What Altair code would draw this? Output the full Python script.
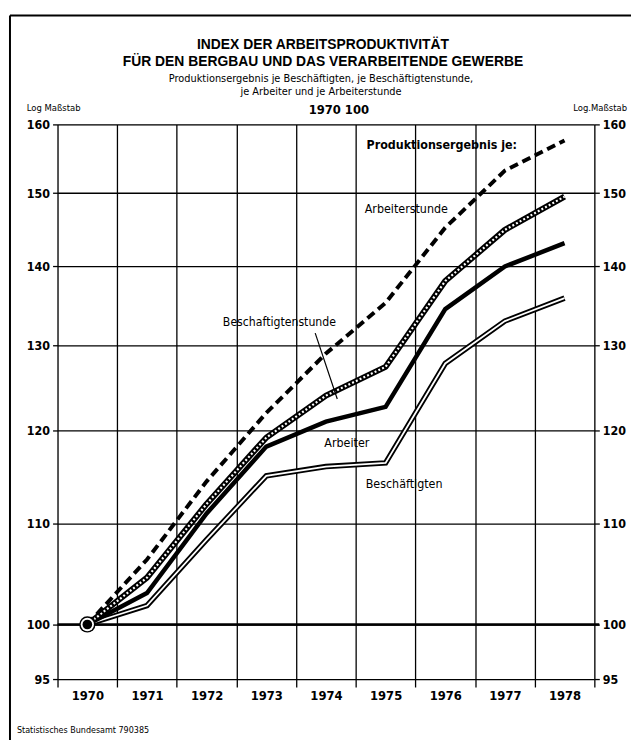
import altair as alt
import pandas as pd

years = [1970, 1971, 1972, 1973, 1974, 1975, 1976, 1977, 1978]
arbeiterstunde = [100, 106.3, 114.4, 122.0, 129.0, 135.3, 145.2, 153.2, 157.6]
beschaeftigtenstunde = [100, 104.5, 112.0, 119.2, 124.0, 127.4, 138.1, 144.9, 149.5]
arbeiter = [100, 103.0, 111.0, 118.2, 121.0, 122.7, 134.5, 140.0, 143.1]
beschaeftigten = [100, 101.8, 108.3, 115.0, 116.0, 116.4, 127.8, 133.0, 135.9]

y_ticks = [95, 100, 110, 120, 130, 140, 150, 160]
x_bounds = [1969.5 + i for i in range(10)]

label_text = ["Produktionsergebnis je:", "Arbeiterstunde", "Beschaftigtenstunde", "Arbeiter", "Beschäftigten"]
label_x = [1974.68, 1974.65, 1973.22, 1974.35, 1975.31]
label_y = [156.9, 147.7, 132.9, 118.6, 114.1]
label_align = ["left", "left", "center", "center", "center"]
label_bold = ["bold", "normal", "normal", "normal", "normal"]
label_size = [12.5, 12.5, 12.3, 12.5, 12.5]

leader_x = [1973.82, 1974.19]
leader_y = [131.5, 123.6]

W, H = 542, 560
NARROW = "DejaVu Sans Condensed, Liberation Sans Narrow, sans-serif"
SANS = "Liberation Sans, Arial, sans-serif"

xscale = alt.Scale(domain=[1969.5, 1978.5], nice=False, zero=False)
yscale = alt.Scale(type="log", domain=[95, 160], nice=False)


def series_df(vals):
    return pd.DataFrame({"year": years, "value": vals})


def one():
    return pd.DataFrame({"a": [0]})


x_grid_axis = alt.Axis(values=x_bounds, labels=False, grid=True, gridColor="black",
                       gridWidth=1.3, gridOpacity=1, ticks=True, tickSize=8, tickColor="black",
                       tickWidth=1.3, domain=False, title=None, orient="bottom")
y_left_axis = alt.Axis(values=y_ticks, format="d", grid=True, gridColor="black", gridWidth=1.3,
                       gridOpacity=1, ticks=True, tickSize=5, tickColor="black", tickWidth=1.3,
                       labelFont=NARROW, labelFontSize=12.5, labelFontWeight="bold",
                       labelColor="black", labelPadding=3, domain=False, title=None, orient="left")
x_label_axis = alt.Axis(values=years, format="d", grid=False, ticks=False, domain=False,
                        labelFont=NARROW, labelFontSize=13, labelFontWeight="bold",
                        labelColor="black", labelPadding=11, title=None, orient="bottom")
y_right_axis = alt.Axis(values=y_ticks, format="d", grid=False, ticks=True, tickSize=5,
                        tickColor="black", tickWidth=1.3, labelFont=NARROW, labelFontSize=12.5,
                        labelFontWeight="bold", labelColor="black", labelPadding=3,
                        domain=False, title=None, orient="right")

besch_outer = alt.Chart(series_df(beschaeftigten)).mark_line(
    color="black", strokeWidth=5.5, strokeJoin="miter", strokeCap="butt").encode(
    x=alt.X("year:Q", scale=xscale, axis=x_label_axis),
    y=alt.Y("value:Q", scale=yscale, axis=y_right_axis))

base_rule = alt.Chart(pd.DataFrame({"value": [100]})).mark_rule(
    color="black", strokeWidth=2.4).encode(
    y=alt.Y("value:Q", scale=yscale, axis=y_left_axis),
    x=alt.value(0), x2=alt.value(W + 5))

grid_pts = alt.Chart(pd.DataFrame({"year": x_bounds, "value": [100] * 10})).mark_point(
    opacity=0).encode(
    x=alt.X("year:Q", scale=xscale, axis=x_grid_axis),
    y=alt.Y("value:Q", scale=yscale, axis=None))

no_x = dict(scale=xscale, axis=None)
no_y = dict(scale=yscale, axis=None)

besch_inner = alt.Chart(series_df(beschaeftigten)).mark_line(
    color="white", strokeWidth=1.8, strokeJoin="miter", strokeCap="butt").encode(
    x=alt.X("year:Q", **no_x), y=alt.Y("value:Q", **no_y))

arbeiter_line = alt.Chart(series_df(arbeiter)).mark_line(
    color="black", strokeWidth=4.5, strokeJoin="miter").encode(
    x=alt.X("year:Q", **no_x), y=alt.Y("value:Q", **no_y))

bst_outer = alt.Chart(series_df(beschaeftigtenstunde)).mark_line(
    color="black", strokeWidth=6, strokeJoin="round").encode(
    x=alt.X("year:Q", **no_x), y=alt.Y("value:Q", **no_y))
bst_inner = alt.Chart(series_df(beschaeftigtenstunde)).mark_line(
    color="white", strokeWidth=2.2, strokeDash=[2, 2.2], strokeJoin="round").encode(
    x=alt.X("year:Q", **no_x), y=alt.Y("value:Q", **no_y))

ast_line = alt.Chart(series_df(arbeiterstunde)).mark_line(
    color="black", strokeWidth=4, strokeDash=[9, 5], strokeCap="butt").encode(
    x=alt.X("year:Q", **no_x), y=alt.Y("value:Q", **no_y))

start_df = pd.DataFrame({"year": [years[0]], "value": [arbeiterstunde[0]]})
m1 = alt.Chart(start_df).mark_point(shape="circle", filled=True, color="black", size=270, opacity=1).encode(
    x=alt.X("year:Q", **no_x), y=alt.Y("value:Q", **no_y))
m2 = alt.Chart(start_df).mark_point(shape="circle", filled=True, color="white", size=180, opacity=1).encode(
    x=alt.X("year:Q", **no_x), y=alt.Y("value:Q", **no_y))
m3 = alt.Chart(start_df).mark_point(shape="circle", filled=True, color="black", size=95, opacity=1).encode(
    x=alt.X("year:Q", **no_x), y=alt.Y("value:Q", **no_y))

labels_df = pd.DataFrame({"t": label_text, "year": label_x, "value": label_y})
label_layers = []
for i in range(len(label_text)):
    label_layers.append(
        alt.Chart(labels_df.iloc[[i]]).mark_text(
            font=NARROW, fontSize=label_size[i], fontWeight=label_bold[i],
            align=label_align[i], baseline="middle", color="black").encode(
            x=alt.X("year:Q", **no_x), y=alt.Y("value:Q", **no_y), text="t:N"))

leader = alt.Chart(pd.DataFrame({"year": leader_x, "value": leader_y})).mark_line(
    color="black", strokeWidth=1.2).encode(
    x=alt.X("year:Q", **no_x), y=alt.Y("value:Q", **no_y))


def txt(s, x, y, size, font, weight="normal", align="center"):
    return alt.Chart(one()).mark_text(text=s, font=font, fontSize=size, fontWeight=weight,
                                      align=align, baseline="middle", color="black").encode(
        x=alt.value(x), y=alt.value(y))


titles = [
    txt("INDEX DER ARBEITSPRODUKTIVITÄT", 268, -80, 14, SANS, "bold"),
    txt("FÜR DEN BERGBAU UND DAS VERARBEITENDE GEWERBE", 268, -63, 14, SANS, "bold"),
    txt("Produktionsergebnis je Beschäftigten, je Beschäftigtenstunde,", 266, -46, 11, NARROW),
    txt("je Arbeiter und je Arbeiterstunde", 266, -33, 11, NARROW),
    txt("1970   100", 284, -15, 13, NARROW, "bold"),
    txt("Log Maßstab", -31, -17, 9.5, NARROW, "normal", "left"),
    txt("Log.Maßstab", 575, -17, 9.5, NARROW, "normal", "right"),
    txt("Statistisches Bundesamt 790385", -41, 611, 9, NARROW, "normal", "left"),
]

frame_left = alt.Chart(one()).mark_rule(color="black", strokeWidth=2).encode(
    x=alt.value(-48), y=alt.value(-110), y2=alt.value(640))
frame_top = alt.Chart(one()).mark_rule(color="black", strokeWidth=2).encode(
    x=alt.value(-48), x2=alt.value(600), y=alt.value(-110))

chart = alt.layer(
    grid_pts, base_rule, besch_outer, besch_inner, arbeiter_line, bst_outer, bst_inner,
    ast_line, m1, m2, m3, leader, *label_layers, *titles, frame_left, frame_top
).resolve_axis(x="independent", y="independent").properties(
    width=W, height=H,
    autosize=alt.AutoSizeParams(type="none"),
    padding={"left": 50, "top": 114, "right": 37, "bottom": 58},
).configure_view(stroke="black", strokeWidth=1.5).configure(background="white")

chart.save("out.html", embed_options={"renderer": "svg", "actions": False})
